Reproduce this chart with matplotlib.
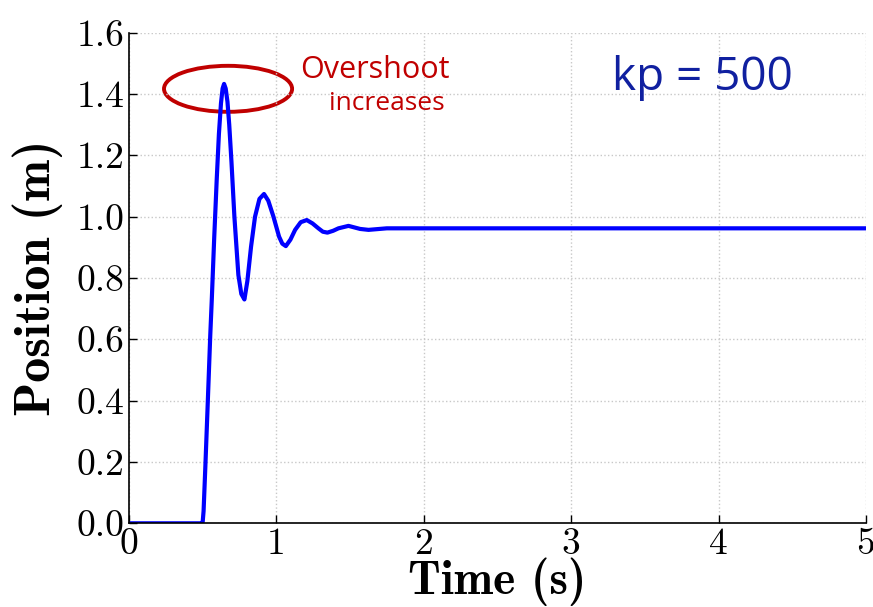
import matplotlib
matplotlib.use('Agg')
import matplotlib.pyplot as plt
from matplotlib.patches import Ellipse

plt.rcParams['font.family'] = 'cmr10'
plt.rcParams['axes.formatter.use_mathtext'] = True
plt.rcParams['mathtext.fontset'] = 'cm'

# step response
t = [0.0, 0.493, 0.500, 0.506, 0.518, 0.535, 0.551, 0.5615, 0.578, 0.595,
     0.610, 0.624, 0.635, 0.645, 0.656, 0.668, 0.680, 0.695, 0.715, 0.742,
     0.762, 0.783, 0.803, 0.828, 0.855, 0.885, 0.916, 0.945, 0.980, 1.018,
     1.040, 1.064, 1.095, 1.127, 1.165, 1.206, 1.245, 1.285, 1.315, 1.346,
     1.385, 1.421, 1.489, 1.568, 1.625, 1.749, 1.84, 3.0, 5.0]
pos = [0.0, 0.0, 0.005, 0.04, 0.185, 0.402, 0.610, 0.728, 0.930, 1.120,
       1.270, 1.370, 1.418, 1.433, 1.418, 1.375, 1.300, 1.180, 1.0, 0.810,
       0.748, 0.730, 0.790, 0.902, 1.0, 1.058, 1.074, 1.052, 1.0, 0.935,
       0.912, 0.904, 0.925, 0.957, 0.982, 0.989, 0.978, 0.962, 0.951, 0.948,
       0.954, 0.962, 0.970, 0.960, 0.957, 0.962, 0.962, 0.962, 0.962]

xticks = [0, 1, 2, 3, 4, 5]
yticks = [0.0, 0.2, 0.4, 0.6, 0.8, 1.0, 1.2, 1.4, 1.6]

fig = plt.figure(figsize=(8.73, 6.07), dpi=100)
ax = fig.add_axes([129/873, 1 - 523.3/607, (866 - 129)/873, (523.3 - 32.7)/607])

ax.plot(t, pos, color='#0000ff', lw=3.0, solid_joinstyle='round')

ax.set_xlim(0, 5)
ax.set_ylim(0, 1.6)
ax.set_xticks(xticks)
ax.set_yticks(yticks)
ax.set_xticklabels([str(v) for v in xticks])
ax.set_yticklabels(['%.1f' % v for v in yticks])
ax.tick_params(direction='in', length=6, width=1, labelsize=27, pad=3)
ax.tick_params(top=False, right=False)
for s in ['top', 'right']:
    ax.spines[s].set_visible(False)
for s in ['left', 'bottom']:
    ax.spines[s].set_linewidth(1.2)
ax.grid(True, color='#c8c8c8', linestyle=':', linewidth=1)

ax.set_xlabel('Time (s)', fontsize=34, fontfamily='cmb10', labelpad=-2)
ax.set_ylabel('Position (m)', fontsize=36, fontfamily='cmb10', labelpad=10)

# hand-drawn style annotations
ax.add_patch(Ellipse((0.672, 1.417), 0.869, 0.150, fill=False,
                     edgecolor='#c00000', lw=2.8, clip_on=False))
ax.text(1.67, 1.479, 'Overshoot', color='#c00000', fontsize=22,
        fontfamily='Open Sans', ha='center', va='center')
ax.text(1.75, 1.368, 'increases', color='#c00000', fontsize=19,
        fontfamily='Open Sans', ha='center', va='center')
ax.text(3.89, 1.453, 'kp = 500', color='#1020a0', fontsize=33,
        fontfamily='Open Sans', ha='center', va='center')

fig.savefig('out.png', dpi=100)
